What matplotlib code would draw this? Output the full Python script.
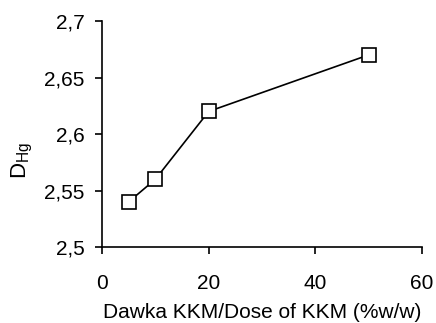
import matplotlib
matplotlib.use("Agg")
import matplotlib.pyplot as plt
from matplotlib.ticker import FuncFormatter

# KKM dose (% w/w) and fractal dimension D_Hg
dose = [5, 10, 20, 50]
d_hg = [2.54, 2.56, 2.62, 2.67]
x_ticks = [0, 20, 40, 60]
y_ticks = [2.5, 2.55, 2.6, 2.65, 2.7]

plt.rcParams['font.family'] = ['Liberation Sans', 'DejaVu Sans']

fig = plt.figure(figsize=(4.36, 3.23), dpi=100)
ax = fig.add_axes([0.234, 0.235, 0.734, 0.700])

ax.plot(dose, d_hg, color='black', linewidth=1.2, marker='s', markersize=9.5,
        markerfacecolor='white', markeredgecolor='black', markeredgewidth=1.2,
        clip_on=False, zorder=3)

ax.set_xlim(0, 60)
ax.set_ylim(2.5, 2.7)
ax.set_xticks(x_ticks)
ax.set_yticks(y_ticks)
ax.yaxis.set_major_formatter(FuncFormatter(lambda v, p: f"{v:g}".replace('.', ',')))

for s in ('top', 'right'):
    ax.spines[s].set_visible(False)
for s in ('left', 'bottom'):
    ax.spines[s].set_linewidth(1.2)

ax.tick_params(direction='out', length=5, width=1.2, labelsize=15)
ax.tick_params(axis='x', pad=14.5)
ax.tick_params(axis='y', pad=7.5)

ax.set_xlabel('Dawka KKM/Dose of KKM (%w/w)', fontsize=15, labelpad=7)
ax.set_ylabel(r'D$_{\mathregular{Hg}}$', fontsize=16)
ax.yaxis.set_label_coords(-0.21, 0.385)

fig.savefig('out.png', dpi=100)
